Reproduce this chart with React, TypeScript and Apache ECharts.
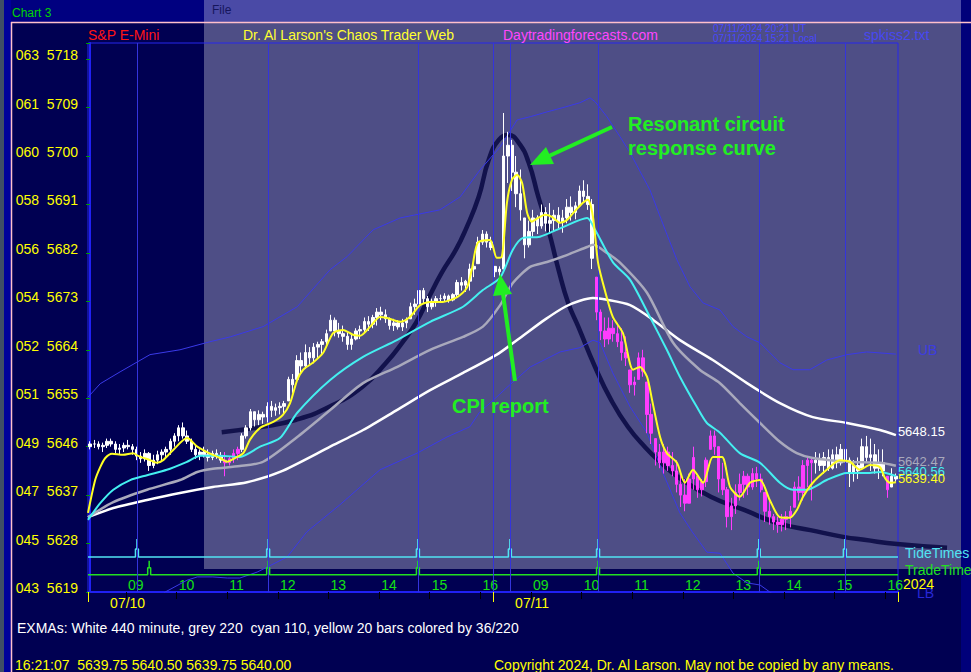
import React, { useEffect, useRef } from "react";
import * as echarts from "echarts";

const FONT = '"Liberation Sans", Arial, sans-serif';

// ---- axes ----
const yCodes = ["043", "045", "047", "049", "051", "052", "054", "056", "058", "060", "061", "063"];
const Y_MIN = 5619;
const Y_STEP = 9;
const Y_MAX = 5721;
const days = ["07/10", "07/11"];

// 5-minute bars 08:15 .. 16:10 for each day
const categories: string[] = [];
for (const d of days) {
  for (let m = 8 * 60 + 15; m < 16 * 60 + 15; m += 5) {
    const hh = String(Math.floor(m / 60)).padStart(2, "0");
    const mm = String(m % 60).padStart(2, "0");
    categories.push(`${d} ${hh}:${mm}`);
  }
}

// ---- price bars (high, low, close) ----
const HI = [
  5647, 5647.25, 5647, 5646.75, 5647.5, 5647.5, 5647, 5646.5, 5646.75, 5647.25,
  5646.5, 5646, 5645, 5645.5, 5645, 5644.5, 5645.25, 5645.5, 5646, 5647.5,
  5648.5, 5650, 5650.5, 5649, 5647.5, 5646.25, 5645.5, 5646, 5645.5, 5645.25,
  5645.5, 5645, 5645, 5644.25, 5645.5, 5646, 5648.5, 5650, 5653, 5652.5,
  5652.75, 5652.5, 5654.25, 5654.5, 5654, 5654.25, 5654.5, 5659, 5659.5, 5663,
  5663.5, 5665, 5664.5, 5665.25, 5665.5, 5666, 5667.75, 5670.5, 5670, 5669,
  5668.5, 5667.5, 5667, 5668, 5668.5, 5670, 5670.25, 5670.5, 5671.75, 5672,
  5671.5, 5670, 5669.75, 5669.5, 5669.75, 5670, 5672.75, 5673.5, 5675.75, 5675.5,
  5674, 5673.5, 5674, 5674.25, 5674.5, 5674.25, 5674.5, 5677, 5677.5, 5677,
  5680, 5681, 5685, 5686.25, 5686, 5685,
  5679.5, 5679.5, 5708, 5704.5, 5703, 5700, 5697.5, 5688.5, 5688, 5690,
  5689, 5691, 5690.5, 5691.25, 5690, 5690.5, 5690, 5692, 5692.5, 5691.5,
  5694.5, 5695.5, 5694.75, 5692, 5677.5, 5671.5, 5670, 5670, 5669.5, 5669,
  5668, 5666.5, 5660.25, 5659, 5663.5, 5664, 5658, 5654, 5647.5, 5646.5,
  5646.5, 5646, 5645, 5643.5, 5641, 5640, 5641, 5646, 5640.5, 5640,
  5644, 5649, 5649, 5646, 5643, 5638.5, 5636.5, 5639, 5641, 5641.5,
  5641, 5642, 5642.25, 5641, 5637.5, 5636, 5633.5, 5633, 5633.5, 5634,
  5635, 5639.5, 5640.5, 5643.5, 5644, 5644, 5645, 5644.75, 5645, 5645.5,
  5645.5, 5646, 5646.5, 5646, 5644, 5643.5, 5644, 5647.5, 5648, 5647.5,
  5646.5, 5645.5, 5645.5, 5640.5, 5642, 5641,
];
const LO = [
  5645.5, 5645.75, 5645.5, 5645, 5645.75, 5646, 5644.75, 5644.5, 5645, 5645.5,
  5644.5, 5643.5, 5643, 5643.25, 5641.5, 5642, 5642.75, 5643.5, 5644, 5644.5,
  5646, 5647, 5647.5, 5646.5, 5645, 5643.75, 5643.5, 5644, 5643.25, 5643.5,
  5643.75, 5643, 5640.5, 5642.5, 5643, 5643.5, 5645, 5647.5, 5649, 5649.75,
  5650, 5650.25, 5650.5, 5651.5, 5651.75, 5652, 5652.25, 5654.5, 5656, 5658.5,
  5659.5, 5660.5, 5661, 5661.5, 5662.5, 5663, 5664.5, 5667.5, 5666.5, 5666.25,
  5665.5, 5664, 5664, 5665.75, 5666, 5667.25, 5667.5, 5668, 5668.5, 5669.5,
  5669, 5667.75, 5667.5, 5667.75, 5667.5, 5668, 5669.75, 5670.5, 5672, 5672.5,
  5671, 5671.5, 5672, 5672.75, 5673, 5672.75, 5673, 5673.75, 5675, 5674.75,
  5675, 5677.5, 5680, 5683.5, 5683, 5682.5,
  5677.5, 5677.75, 5679, 5695, 5693.5, 5690.5, 5688, 5681, 5683, 5685,
  5685.5, 5686.5, 5686, 5685.5, 5686, 5686.5, 5685.75, 5687.5, 5688, 5688.25,
  5690.5, 5691.5, 5690, 5679, 5669.5, 5665.8, 5664.5, 5665, 5665.5, 5664.5,
  5662, 5661, 5656, 5655.5, 5658.5, 5659, 5648.5, 5646.5, 5642.5, 5642,
  5641, 5641.5, 5640.5, 5637.5, 5634.8, 5634, 5635.5, 5638, 5636.5, 5636.75,
  5638.5, 5645.5, 5644.5, 5637.5, 5637, 5631, 5630.5, 5633.5, 5636, 5636.5,
  5637, 5638, 5638.5, 5637.5, 5632, 5631.5, 5630.5, 5630, 5630.25, 5630.5,
  5631, 5634.75, 5636, 5636, 5638.5, 5636, 5641, 5641.5, 5641, 5641.5,
  5641.75, 5642, 5642.5, 5642, 5638.5, 5639.5, 5640, 5642, 5643, 5641.5,
  5641, 5640, 5640.5, 5636.5, 5638.5, 5639.5,
];
const CL = [
  5646.5, 5646.5, 5646, 5646.25, 5647, 5646.5, 5645.5, 5645.75, 5646.25, 5646,
  5645.5, 5644.25, 5643.75, 5644.75, 5642.5, 5643.5, 5644.5, 5645, 5645.5, 5647,
  5648, 5649.5, 5648, 5647, 5645.5, 5644.5, 5645, 5644.5, 5644, 5644.75,
  5644.25, 5643.5, 5643, 5643.75, 5644.75, 5645.5, 5648, 5649.5, 5652.5, 5651,
  5652, 5651.5, 5653.5, 5652.75, 5653.25, 5653.5, 5654, 5658.5, 5657.5, 5662,
  5661, 5663.5, 5662.5, 5664.5, 5665, 5665.5, 5667, 5669.5, 5667.5, 5667,
  5666.5, 5665, 5666, 5667.5, 5667.75, 5669.25, 5668.75, 5670, 5671, 5670.5,
  5669.75, 5668.5, 5669, 5668.25, 5669, 5669.5, 5672, 5672.5, 5675, 5673.5,
  5672, 5673, 5673.5, 5673.5, 5674, 5673.25, 5674.25, 5676.5, 5676, 5676.75,
  5679, 5679.5, 5684, 5685.5, 5684, 5683,
  5678.5, 5679, 5700, 5702, 5697, 5693, 5690, 5683.5, 5686, 5688.5,
  5687, 5689.5, 5687.5, 5688, 5689, 5687.75, 5688.5, 5690.5, 5689.5, 5690.75,
  5693.5, 5692.5, 5691, 5681, 5671, 5667.5, 5666, 5668, 5667, 5665.5,
  5663.5, 5662.5, 5657.5, 5658, 5662.5, 5660, 5652, 5648.5, 5645, 5643,
  5645, 5642.5, 5641.5, 5639, 5637, 5635.5, 5640, 5644, 5638, 5639.5,
  5643.5, 5648, 5646, 5640, 5638, 5633, 5635, 5637.5, 5639, 5640.5,
  5638.5, 5641, 5640, 5638, 5634, 5633, 5632, 5631.5, 5632.5, 5633,
  5634, 5638.5, 5637.5, 5642.5, 5643.5, 5643, 5643.5, 5642.5, 5644, 5642,
  5644.5, 5643, 5645.5, 5643.5, 5641, 5642.5, 5641.5, 5646, 5644, 5644.5,
  5642, 5643, 5641.5, 5638, 5640.5, 5640,
];
const OPEN0 = 5646;
const magentaRanges = [[32, 35], [120, 171], [189, 189]];

// ---- moving averages / bands: [bar index, price] ----
const yellowEma = [
  [-0.5, 5633.7], [1.2, 5639.8], [2.4, 5642.2], [3.6, 5643.9], [5.2, 5644.7], [7.8, 5644.5], [10.2, 5644.8],
  [11.4, 5644.3], [14.2, 5643.5], [15.9, 5643.0], [17.3, 5643.5], [19.7, 5645.4], [23, 5647.6], [25.4, 5646.0],
  [27.7, 5645.0], [30.8, 5643.9], [32.5, 5643.2], [33.9, 5643.7], [36.3, 5644.8], [37.9, 5647.3], [40.3, 5649.5],
  [43.4, 5650.6], [45.7, 5651.9], [47.4, 5654.1], [49.1, 5658.4], [50.5, 5660.3], [52.8, 5661.6], [55.2, 5663.4],
  [57.6, 5667.1], [60, 5667.7], [62.3, 5666.8], [64, 5666.6], [66.4, 5668.3], [68.7, 5670.1], [70.4, 5669.9],
  [73.5, 5669.2], [75.8, 5670.1], [78.2, 5672.3], [80.6, 5672.9], [83.6, 5672.9], [87, 5673.8], [89.3, 5675.5],
  [90.6, 5679.4], [91.9, 5683.9], [94.8, 5684.4], [96.4, 5681.1], [97.6, 5681.3], [98.8, 5691.3], [100, 5695.6],
  [101.2, 5696.5], [102.4, 5695.0], [103.6, 5689.4], [104.7, 5687.8], [106.2, 5688.5], [107.8, 5689.1],
  [109.5, 5688.7], [111.4, 5687.6], [113, 5688.1], [114.5, 5689.4], [116.8, 5691.3], [118, 5691.9],
  [119.2, 5688.7], [120.4, 5680.2], [122, 5675.1], [123.9, 5670.1], [126.3, 5667.1], [128.7, 5660.3],
  [130.3, 5660.8], [132, 5659.0], [133.2, 5654.7], [135.1, 5647.8], [136.7, 5644.8], [139.1, 5643.0],
  [141, 5639.3], [142.9, 5641.7], [145.3, 5639.3], [147.6, 5644.1], [149.8, 5644.1], [151.7, 5638.5],
  [154, 5636.7], [156.4, 5639.3], [158.8, 5639.8], [161.1, 5636.1], [163.5, 5632.9], [165.9, 5632.8],
  [167.5, 5634.2], [169, 5636.7], [171.3, 5639.3], [174.6, 5641.7], [177.7, 5643.5], [180.1, 5643.2],
  [182.5, 5641.7], [184.8, 5642.6], [187.2, 5642.2], [188.4, 5640.2], [189.6, 5639.3], [191, 5639.4],
];
const cyanEma = [
  [-0.5, 5632.4], [2.4, 5635.5], [5.5, 5638.0], [9.5, 5639.8], [13.5, 5640.7], [18.2, 5641.7], [23, 5643.2],
  [26.1, 5644.3], [30.8, 5644.3], [35.5, 5644.1], [40.3, 5646.0], [45, 5647.6], [49.1, 5652.3], [56.9, 5658.4],
  [64.7, 5662.7], [72.7, 5665.8], [80.6, 5669.2], [88.4, 5672.0], [93.1, 5675.1], [97.2, 5677.4],
  [100.2, 5682.6], [102.6, 5684.8], [106.6, 5685.0], [112.1, 5686.8], [117.8, 5688.5], [119.7, 5686.3],
  [123.9, 5680.3], [128, 5677.0], [132.7, 5670.1], [136.7, 5664.0], [139.8, 5659.0], [143.8, 5653.4],
  [146.2, 5650.4], [149.3, 5648.6], [154, 5644.8], [158.8, 5643.0], [163.5, 5639.3], [166.6, 5638.0],
  [169.9, 5638.0], [174.6, 5639.8], [179.4, 5641.1], [184.1, 5641.1], [187.2, 5641.3], [191, 5640.56],
];
const greyEma = [
  [-0.5, 5632.9], [5.5, 5635.7], [13.5, 5638.0], [21.3, 5639.8], [25.4, 5641.3], [29.1, 5641.9], [35.5, 5642.4],
  [41, 5643.2], [49.1, 5647.8], [56.9, 5652.8], [64.7, 5657.8], [72.7, 5660.8], [80.6, 5664.0], [88.4, 5666.4],
  [93.1, 5668.3], [97.2, 5672.3], [100.2, 5676.4], [104.3, 5679.4], [108.3, 5680.3], [113, 5681.6],
  [117.8, 5683.1], [119.2, 5683.5], [122.5, 5682.0], [125.6, 5680.2], [132, 5674.6], [138.2, 5665.3],
  [144.5, 5660.3], [149.3, 5657.8], [154, 5654.1], [158.8, 5650.4], [163.5, 5646.9], [167.5, 5644.8],
  [171.3, 5643.9], [179.4, 5643.2], [187.2, 5643.0], [191, 5642.47],
];
const whiteEma = [
  [-0.5, 5632.9], [5.5, 5634.6], [13.5, 5636.1], [21.3, 5637.4], [29.1, 5638.5], [37.2, 5639.4], [45, 5641.3],
  [56.9, 5646.0], [64.7, 5649.1], [72.7, 5652.8], [80.6, 5656.5], [88.4, 5659.7], [96.4, 5663.1],
  [101.9, 5666.2], [107.8, 5669.6], [112.6, 5672.0], [116.1, 5673.1], [119.2, 5673.6], [122.5, 5673.3],
  [128, 5672.3], [133.4, 5669.6], [139.8, 5665.8], [147.6, 5662.1], [155.7, 5657.8], [163.5, 5654.1],
  [171.3, 5651.5], [179.4, 5650.4], [187.2, 5649.1], [191, 5648.15],
];
const upperBand = [
  [-0.5, 5655.2], [2.4, 5657.7], [7.1, 5659.9], [14.2, 5663.1], [21.3, 5664.0], [28.4, 5665.5], [33.2, 5666.4],
  [41, 5668.3], [49.1, 5672.0], [56.9, 5678.9], [60.9, 5681.3], [67.1, 5686.3], [73.5, 5688.5], [82.9, 5690.0],
  [87.7, 5692.4], [92.4, 5697.4], [97.2, 5701.7], [101.2, 5706.7], [104.3, 5707.3], [108.3, 5708.2],
  [112.1, 5709.0], [116.1, 5709.9], [118.5, 5710.8], [119.7, 5710.1], [122.5, 5707.3], [125.6, 5703.6],
  [128, 5700.6], [132.7, 5693.7], [136.3, 5686.3], [139.1, 5680.7], [142.2, 5675.7], [145.3, 5672.7],
  [149.3, 5671.4], [152.4, 5668.3], [155.7, 5666.4], [158.8, 5665.3], [163.5, 5661.6], [166.6, 5660.3],
  [170.6, 5660.3], [174.6, 5662.1], [179.4, 5663.1], [184.1, 5663.6], [191, 5663.2],
];
const lowerBand = [
  [11.8, 5615.3], [17.8, 5619.0], [23, 5621.2], [25.4, 5621.8], [29.1, 5621.8], [32.5, 5621.6], [35.5, 5621.6],
  [39.6, 5622.7], [46.7, 5625.5], [51.4, 5630.2], [59.2, 5635.2], [64, 5638.5], [68.7, 5641.7], [77.5, 5644.8],
  [84.6, 5647.8], [90, 5649.7], [92.4, 5652.5], [94.8, 5654.1], [99.5, 5657.5], [104.3, 5660.8],
  [111.4, 5663.6], [116.1, 5664.4], [119.2, 5665.8], [120.9, 5665.3], [123.9, 5659.7], [128, 5653.4],
  [132, 5648.6], [135.8, 5641.1], [139.8, 5633.7], [142.7, 5630.2], [146.2, 5626.4], [149.3, 5626.2],
  [152.4, 5622.5], [155.7, 5620.7], [158.8, 5620.3], [161.1, 5619.0], [165.9, 5616.6],
];
const resonantCurve = [
  [31.3, 5648.7], [41, 5649.7], [49, 5651.0], [56.9, 5653.4], [64.7, 5657.1], [70.4, 5661.6], [74.2, 5665.3],
  [77.5, 5669.0], [80.6, 5673.8], [83.6, 5678.3], [87, 5682.6], [89.3, 5686.3], [92.4, 5692.4], [94.8, 5699.3],
  [97.2, 5703.0], [99.5, 5703.9], [101.9, 5702.5], [104.3, 5698.8], [106.6, 5692.4], [109, 5686.3],
  [111.4, 5678.9], [113.7, 5672.7], [116.1, 5668.3], [120.1, 5660.8], [123.9, 5654.7], [127.9, 5649.7],
  [132, 5645.9], [135.8, 5643.0], [139.8, 5640.4], [147.6, 5636.7], [155.7, 5634.2], [163.5, 5631.8],
  [171.3, 5630.5], [179.4, 5629.2], [184.1, 5628.7], [191.9, 5627.9], [203.8, 5627.2],
];
const tideTimes = [11.1, 42.2, 77.7, 99.5, 120.4, 158.5, 178.9];
const tradeTimes = [14.0, 42.2, 77.7, 120.4, 158.5];
const daySeparator = 95.5;

const headerTexts = {
  chart: "Chart 3",
  file: "File",
  symbol: "S&P E-Mini",
  title: "Dr. Al Larson's Chaos Trader Web",
  site: "Daytradingforecasts.com",
  ut: "07/11/2024 20:21 UT",
  local: "07/11/2024 15:21 Local",
  file2: "spkiss2.txt",
};
const footerTexts = {
  legend: "EXMAs: White 440 minute, grey 220  cyan 110, yellow 20 bars colored by 36/220",
  quote: "16:21:07  5639.75 5640.50 5639.75 5640.00",
  copy: "Copyright 2024, Dr. Al Larson. May not be copied by any means.",
};

const MAGENTA = "#FF3CFF";
const isMagenta = (i: number) => magentaRanges.some(([a, b]) => i >= a && i <= b);

// plot geometry
const GRID_LEFT = 88;
const GRID_TOP = 43;
const GRID_W = 810;
const GRID_H = 549;
const X_MIN = -0.5;
const X_MAX = 191.5;
const X_MAX_EXT = 209.5; // wider hidden grid so the curve can run past the frame

function buildSpikes(times: number[], base: number, shoulder: number, top: number) {
  const pts: number[][] = [[X_MIN, base]];
  for (const t of times) {
    pts.push([t - 0.35, base], [t - 0.35, shoulder], [t, shoulder], [t, top], [t, shoulder], [t + 0.35, shoulder], [t + 0.35, base]);
  }
  pts.push([X_MAX, base]);
  return pts;
}

const txt = (text: string, x: number, y: number, fill: string, fontSize = 14, extra: any = {}) => ({
  type: "text",
  x,
  y,
  z: 100,
  silent: true,
  style: { text, fill, fontSize, fontFamily: FONT, verticalAlign: "middle", align: "left", ...extra },
});

export default function App() {
  const ref = useRef<HTMLDivElement>(null);
  useEffect(() => {
    if (!ref.current) return;
    const chart = echarts.init(ref.current, undefined, { renderer: "svg" });

    const candleData = CL.map((c, i) => {
      const prev = i === 0 ? OPEN0 : CL[i - 1];
      const o = Math.min(Math.max(prev, LO[i]), HI[i]);
      const col = isMagenta(i) ? MAGENTA : "#FFFFFF";
      return {
        value: [o, c, LO[i], HI[i]],
        itemStyle: { color: col, color0: col, borderColor: col, borderColor0: col, borderWidth: 1 },
      };
    });

    const hourTick = (idx: number, val: string) => val.endsWith(":00");
    const dayTick = (idx: number) => idx % 96 === 0;

    const emaLine = (name: string, data: number[][], color: string, width: number, z: number) => ({
      type: "line",
      name,
      xAxisIndex: 1,
      yAxisIndex: 0,
      data,
      symbol: "none",
      smooth: 0.25,
      lineStyle: { color, width },
      z,
      silent: true,
      endLabel: {
        show: true,
        formatter: (p: any) => Number(p.value[1]).toFixed(2),
        color,
        fontSize: 13,
        fontFamily: FONT,
        distance: 2,
        offset: [0, -4],
      },
    });

    const arrowColor = "#22EE22";
    const extWidth = (GRID_W * (X_MAX_EXT - X_MIN)) / (X_MAX - X_MIN);

    chart.setOption({
      animation: false,
      backgroundColor: "#000052",
      grid: [
        {
          left: GRID_LEFT,
          top: GRID_TOP,
          width: GRID_W,
          height: GRID_H,
          show: true,
          borderColor: "#2626EC",
          borderWidth: 1,
          backgroundColor: "transparent",
        },
        { left: GRID_LEFT, top: GRID_TOP, width: extWidth, height: GRID_H, show: false },
      ],
      xAxis: [
        {
          type: "category",
          gridIndex: 0,
          data: categories,
          position: "bottom",
          boundaryGap: true,
          axisLine: { show: true, onZero: false, lineStyle: { color: "#2020F4", width: 2 } },
          axisTick: { show: true, interval: hourTick, length: 7, lineStyle: { color: "#000000", width: 1 } },
          axisLabel: {
            show: true,
            inside: true,
            interval: hourTick,
            formatter: (v: string) => v.slice(6, 8),
            color: "#14E014",
            fontSize: 14,
            fontFamily: FONT,
            align: "left",
            margin: 0,
          },
          splitLine: { show: false },
        },
        { type: "value", gridIndex: 0, min: X_MIN, max: X_MAX, show: false, position: "top" },
        {
          type: "category",
          gridIndex: 0,
          data: categories,
          position: "bottom",
          boundaryGap: true,
          axisLine: { show: false, onZero: false },
          axisTick: { show: true, interval: dayTick, length: 10, lineStyle: { color: "#FFFF00", width: 1 } },
          axisLabel: {
            show: true,
            interval: dayTick,
            formatter: (v: string) => v.slice(0, 5),
            color: "#FFFF00",
            fontSize: 14,
            fontFamily: FONT,
            align: "left",
            padding: [0, 0, 0, 20],
            margin: 4,
          },
          splitLine: { show: false },
        },
        { type: "value", gridIndex: 1, min: X_MIN, max: X_MAX_EXT, show: false },
      ],
      yAxis: [
        {
          type: "value",
          gridIndex: 0,
          min: Y_MIN,
          max: Y_MAX,
          interval: Y_STEP,
          axisLine: { show: true, lineStyle: { color: "#2020F4", width: 2 } },
          axisTick: { show: true, length: 4, lineStyle: { color: "#00A000" } },
          axisLabel: {
            color: "#FFFF00",
            fontSize: 14,
            fontFamily: FONT,
            margin: 10,
            verticalAlign: "bottom",
            lineHeight: 8,
            formatter: (v: number) => {
              const k = Math.round((v - Y_MIN) / Y_STEP);
              if (Math.abs(v - (Y_MIN + k * Y_STEP)) > 0.01 || k < 0 || k >= yCodes.length) return "";
              return `${yCodes[k]}  ${v}`;
            },
          },
          splitLine: { show: false },
        },
        { type: "value", gridIndex: 1, min: Y_MIN, max: Y_MAX, show: false },
      ],
      series: [
        {
          type: "line",
          name: "resonant",
          xAxisIndex: 3,
          yAxisIndex: 1,
          data: resonantCurve,
          symbol: "none",
          smooth: true,
          lineStyle: { color: "#12124C", width: 4.5 },
          z: 1,
          silent: true,
        },
        {
          type: "line",
          name: "UB",
          xAxisIndex: 1,
          data: upperBand,
          symbol: "none",
          lineStyle: { color: "#3A3AE8", width: 1 },
          z: 1,
          silent: true,
        },
        {
          type: "line",
          name: "LB",
          xAxisIndex: 1,
          data: lowerBand,
          symbol: "none",
          lineStyle: { color: "#3A3AE8", width: 1 },
          z: 1,
          silent: true,
        },
        {
          type: "line",
          name: "TideTimes",
          xAxisIndex: 1,
          data: buildSpikes(tideTimes, 5625.5, 5627.0, 5628.85),
          symbol: "none",
          lineStyle: { color: "#52E4F2", width: 1.5 },
          z: 2,
          silent: true,
          markLine: {
            silent: true,
            symbol: ["none", "none"],
            label: { show: false },
            lineStyle: { color: "#3434DC", width: 1, type: "solid" },
            data: [...tideTimes, daySeparator].map((v) => ({ xAxis: v })),
          },
        },
        {
          type: "line",
          name: "TradeTimes",
          xAxisIndex: 1,
          data: buildSpikes(tradeTimes, 5622.2, 5623.5, 5624.8),
          symbol: "none",
          lineStyle: { color: "#22E022", width: 1.5 },
          z: 2,
          silent: true,
        },
        {
          type: "candlestick",
          name: "bars",
          xAxisIndex: 0,
          yAxisIndex: 0,
          data: candleData,
          barWidth: 3,
          z: 3,
          silent: true,
        },
        emaLine("white", whiteEma, "#FFFFFF", 2.5, 4),
        emaLine("grey", greyEma, "#A9A9BC", 2.5, 4),
        emaLine("cyan", cyanEma, "#44F0F0", 2, 5),
        emaLine("yellow", yellowEma, "#FFFF22", 2, 6),
      ],
      graphic: [
        { type: "rect", z: -10, silent: true, shape: { x: 0, y: 0, width: 4, height: 672 }, style: { fill: "#3F4D66" } },
        { type: "rect", z: -10, silent: true, shape: { x: 4, y: 0, width: 7, height: 672 }, style: { fill: "#00009A" } },
        { type: "rect", z: -10, silent: true, shape: { x: 11, y: 0, width: 193, height: 22 }, style: { fill: "#000080" } },
        { type: "rect", z: -10, silent: true, shape: { x: 204, y: 0, width: 757, height: 569 }, style: { fill: "#4E4E86" } },
        { type: "rect", z: -9, silent: true, shape: { x: 204, y: 0, width: 757, height: 22 }, style: { fill: "#4A4AA6" } },
        { type: "rect", z: -10, silent: true, shape: { x: 961, y: 0, width: 10, height: 672 }, style: { fill: "#00007A" } },
        { type: "line", z: 50, silent: true, shape: { x1: 11, y1: 22.5, x2: 971, y2: 22.5 }, style: { stroke: "#FFC0CB", lineWidth: 1.5 } },
        { type: "line", z: 50, silent: true, shape: { x1: 11.5, y1: 22, x2: 11.5, y2: 672 }, style: { stroke: "#FFC0CB", lineWidth: 1.5 } },

        txt(headerTexts.chart, 12, 13, "#00D400", 12),
        txt(headerTexts.file, 212, 10, "#16165C", 12),
        txt(headerTexts.symbol, 88, 35, "#FF1414"),
        txt(headerTexts.title, 243, 35, "#FFFF30"),
        txt(headerTexts.site, 503, 35, "#FF46FF"),
        txt(headerTexts.ut, 713, 28, "#4848FF", 10),
        txt(headerTexts.local, 713, 38, "#4848FF", 10),
        txt(headerTexts.file2, 864, 35, "#4848F2"),

        txt("UB", 918, 350, "#3C3CE2"),
        txt("TideTimes", 905, 553, "#52E4F2"),
        txt("TradeTimes", 905, 570, "#22E022"),
        txt("LB", 917, 593, "#2828D8"),
        txt("2024", 903, 584, "#FFFF00"),

        txt(footerTexts.legend, 17, 628, "#FFFFFF"),
        txt(footerTexts.quote, 15, 665, "#FFFF00"),
        txt(footerTexts.copy, 494, 665, "#FFFF00"),

        // annotations
        { type: "line", z: 90, silent: true, shape: { x1: 612, y1: 127, x2: 549, y2: 156 }, style: { stroke: arrowColor, lineWidth: 4 } },
        { type: "polygon", z: 90, silent: true, shape: { points: [[530, 165], [554, 164], [546, 147]] }, style: { fill: arrowColor } },
        { type: "line", z: 90, silent: true, shape: { x1: 515, y1: 381, x2: 503, y2: 294 }, style: { stroke: arrowColor, lineWidth: 4 } },
        { type: "polygon", z: 90, silent: true, shape: { points: [[500, 274], [512, 294], [493, 296]] }, style: { fill: arrowColor } },
        txt("Resonant circuit", 628, 124, arrowColor, 20, { fontWeight: "bold" }),
        txt("response curve", 628, 148, arrowColor, 20, { fontWeight: "bold" }),
        txt("CPI report", 452, 406, arrowColor, 20, { fontWeight: "bold" }),
      ],
    });

    return () => chart.dispose();
  }, []);

  return <div ref={ref} style={{ position: "fixed", left: 0, top: 0, width: 971, height: 672 }} />;
}
